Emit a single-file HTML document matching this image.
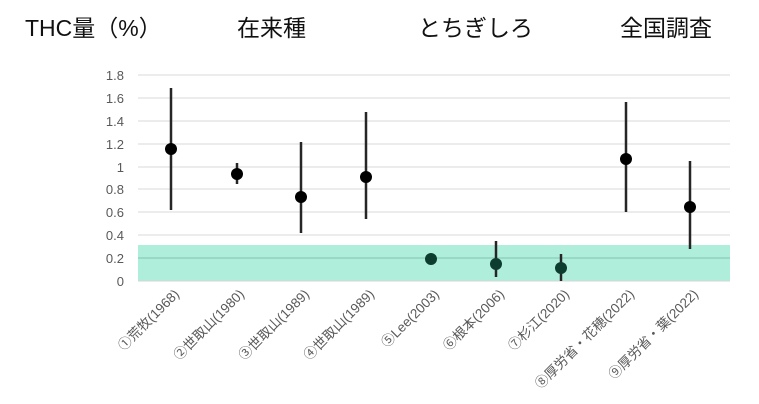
<!DOCTYPE html>
<html><head><meta charset="utf-8"><style>
body{margin:0;background:#fff;width:759px;height:404px;overflow:hidden}
svg{display:block;font-family:"Liberation Sans","Noto Sans CJK JP",sans-serif}
</style></head><body>
<svg width="759" height="404" viewBox="0 0 759 404">
<g font-size="23" fill="#111">
<text x="25" y="36">THC量（%）</text>
<text x="237" y="36">在来種</text>
<text x="418" y="36">とちぎしろ</text>
<text x="620" y="36">全国調査</text>
</g>
<g stroke="#d9d9d9" stroke-width="1">
<line x1="138" x2="730" y1="75" y2="75"/><line x1="138" x2="730" y1="98" y2="98"/>
<line x1="138" x2="730" y1="121" y2="121"/><line x1="138" x2="730" y1="144" y2="144"/>
<line x1="138" x2="730" y1="167" y2="167"/><line x1="138" x2="730" y1="189" y2="189"/>
<line x1="138" x2="730" y1="212" y2="212"/><line x1="138" x2="730" y1="235" y2="235"/>
</g>
<rect x="138" y="245" width="592" height="36" fill="#b0eedc"/>
<line x1="138" x2="730" y1="258" y2="258" stroke="#7fc4ae" stroke-width="1"/>
<line x1="138" x2="730" y1="281" y2="281" stroke="#cfd8d4" stroke-width="1"/>
<g font-size="13" fill="#595959" text-anchor="end">
<text x="124" y="80">1.8</text><text x="124" y="103">1.6</text><text x="124" y="126">1.4</text>
<text x="124" y="149">1.2</text><text x="124" y="172">1</text><text x="124" y="194">0.8</text>
<text x="124" y="217">0.6</text><text x="124" y="240">0.4</text><text x="124" y="263">0.2</text>
<text x="124" y="286">0</text>
</g>
<g stroke="#262626" stroke-width="2.5">
<line x1="171" x2="171" y1="88" y2="210"/>
<line x1="237" x2="237" y1="163" y2="184"/>
<line x1="301" x2="301" y1="142" y2="233"/>
<line x1="366" x2="366" y1="112" y2="219"/>
<line x1="496" x2="496" y1="241" y2="277"/>
<line x1="561" x2="561" y1="254" y2="281"/>
<line x1="626" x2="626" y1="102" y2="212"/>
<line x1="690" x2="690" y1="161" y2="249"/>
</g>
<g fill="#000">
<circle cx="171" cy="149" r="6"/><circle cx="237" cy="174" r="6"/>
<circle cx="301" cy="197" r="6"/><circle cx="366" cy="177" r="6"/>
<circle cx="626" cy="159" r="6"/><circle cx="690" cy="207" r="6"/>
</g>
<g fill="#0d3d2e">
<circle cx="431" cy="259" r="6"/><circle cx="496" cy="264" r="6"/><circle cx="561" cy="268" r="6"/>
</g>
<g font-size="13.5" fill="#595959" text-anchor="end">
<text transform="translate(180,295) rotate(-45)">①荒牧(1968)</text>
<text transform="translate(245,295) rotate(-45)">②世取山(1980)</text>
<text transform="translate(310,295) rotate(-45)">③世取山(1989)</text>
<text transform="translate(375,295) rotate(-45)">④世取山(1989)</text>
<text transform="translate(440,295) rotate(-45)">⑤Lee(2003)</text>
<text transform="translate(505,295) rotate(-45)">⑥根本(2006)</text>
<text transform="translate(570,295) rotate(-45)">⑦杉江(2020)</text>
<text transform="translate(635,295) rotate(-45)">⑧厚労省・花穂(2022)</text>
<text transform="translate(699,295) rotate(-45)">⑨厚労省・葉(2022)</text>
</g>
</svg>
</body></html>
